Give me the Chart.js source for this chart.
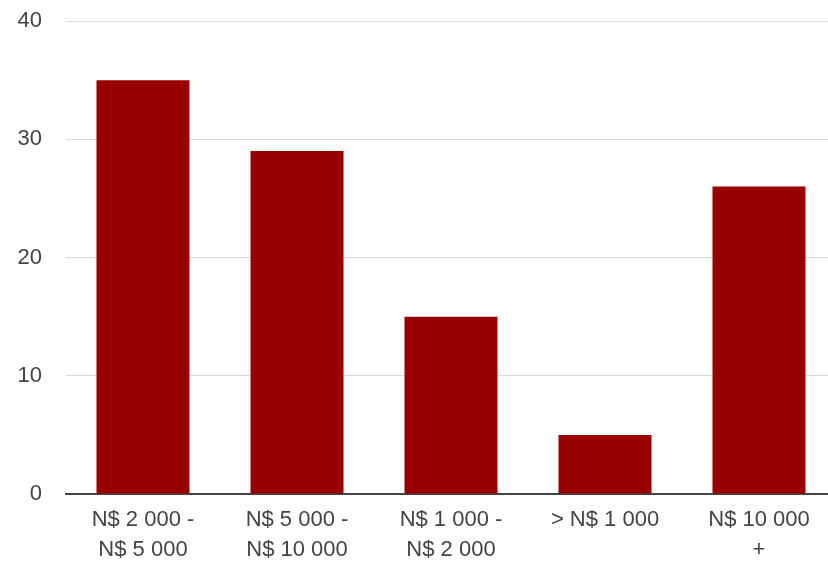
<!DOCTYPE html>
<html>
<head>
<meta charset="utf-8">
<script src="https://cdn.jsdelivr.net/npm/chart.js@4/dist/chart.umd.min.js"></script>
<style>
  html, body { margin: 0; padding: 0; background: #fff; overflow: hidden; }
  #wrap { width: 828px; height: 563px; overflow: hidden; }
  #box { width: 840px; height: 563px; }
</style>
</head>
<body>
<div id="wrap"><div id="box"><canvas id="chart"></canvas></div></div>
<script>
const categories = [
  ["N$ 2 000 -", "N$ 5 000"],
  ["N$ 5 000 -", "N$ 10 000"],
  ["N$ 1 000 -", "N$ 2 000"],
  "> N$ 1 000",
  ["N$ 10 000", "+"],
];
const counts = [35, 29, 15, 5, 26];
const yTicks = [0, 10, 20, 30, 40];

const ctx = document.getElementById("chart");

Chart.defaults.color = "#444";
Chart.defaults.font.family = "Liberation Sans, Arial, sans-serif";
Chart.defaults.font.size = 22;

new Chart(ctx, {
  type: "bar",
  data: {
    labels: categories,
    datasets: [
      {
        label: "Count",
        data: counts,
        backgroundColor: "#990000",
        borderWidth: 0,
        categoryPercentage: 1,
        barPercentage: 0.604,
      },
    ],
  },
  options: {
    animation: false,
    responsive: true,
    maintainAspectRatio: false,
    layout: {
      padding: { top: 21, right: 4, left: 0, bottom: 0 },
    },
    plugins: {
      legend: { display: false },
      tooltip: { enabled: false },
    },
    scales: {
      x: {
        grid: { display: false },
        border: { color: "#444", width: 2 },
        ticks: {
          padding: 3,
          maxRotation: 0,
          autoSkip: false,
          font: { size: 22, lineHeight: 1.35 },
        },
        afterFit: function (scale) {
          scale.height = 69;
          scale.paddingLeft = 0;
          scale.paddingRight = 0;
        },
      },
      y: {
        min: 0,
        max: 40,
        afterBuildTicks: function (scale) {
          scale.ticks = yTicks.map((v) => ({ value: v }));
        },
        grid: {
          color: "#d9d9d9",
          lineWidth: 1,
          drawTicks: false,
        },
        border: { display: false },
        ticks: {
          padding: 24,
          font: { size: 22 },
        },
        afterFit: function (scale) {
          scale.width = 66;
          scale.paddingTop = 0;
          scale.paddingBottom = 0;
        },
      },
    },
  },
});
</script>
</body>
</html>
